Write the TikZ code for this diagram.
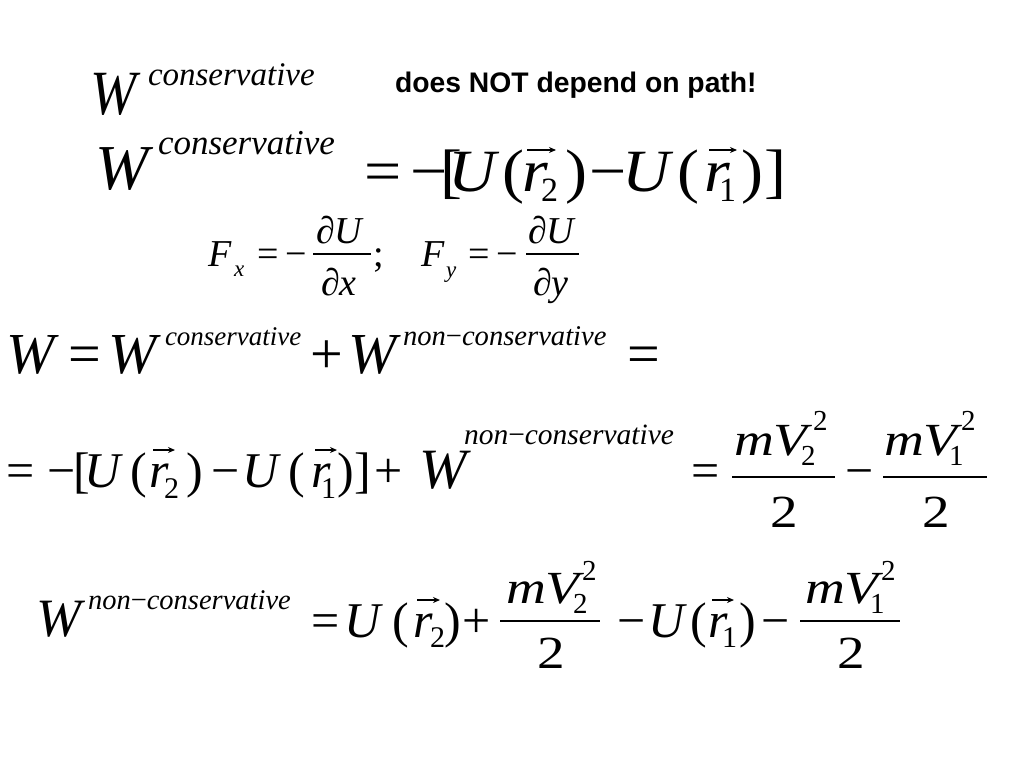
\documentclass[tikz,border=0pt]{standalone}
\usepackage{fontspec}
\usepackage{graphicx}
\setmainfont{Liberation Serif}
\newfontfamily\arialf{Liberation Sans}
\usetikzlibrary{arrows.meta}
\newcommand\fs[1]{\fontsize{#1}{#1}\selectfont}
\newcounter{tn}
\newcommand\tx[4]{\stepcounter{tn}\node[txt] (t\thetn) at (#1,#2) {\fs{#3}#4};}
\newcommand\txs[5]{\stepcounter{tn}\node[txt] (t\thetn) at (#1,#2) {\fs{#3}\scalebox{#4}[1]{#5}};}
\newcommand\myit[1]{{\itshape #1}}
\newcommand\vecar[3]{\draw[vec] (#1,#3) -- (#2,#3);}
\newcommand\fbar[3]{\draw[fbarline] (#1,#3) -- (#2,#3);}
\begin{document}
\begin{tikzpicture}[x=1pt,y=-1pt,
  txt/.style={anchor=base west,inner sep=0pt,outer sep=0pt},
  vec/.style={line width=1.4pt,-{Stealth[length=7pt,width=6pt]}},
  fbarline/.style={line width=1.5pt}]
\fill[white] (0,0) rectangle (1024,768);
\useasboundingbox (0,0) rectangle (1024,768);
% line 1
\txs{90}{114}{63}{0.88}{\itshape W}
\tx{148}{85}{33}{\itshape conservative}
\tx{395}{92}{28.3}{\arialf\bfseries does NOT depend on path!}
% line 2
\tx{95}{189}{64}{\itshape W}
\tx{158}{154}{35}{\itshape conservative}
\txs{364}{191}{60}{1.1}{=}
\txs{410}{191}{60}{1.1}{−}
\txs{440}{191}{60}{1.1}{[}
\txs{448}{191}{60}{1.1}{\itshape U}
\txs{502}{191}{60}{1.1}{(}
\txs{522}{191}{60}{1.1}{\itshape r}
\tx{541}{201}{34}{2}
\txs{565}{191}{60}{1.1}{)}
\txs{589}{191}{60}{1.1}{−}
\txs{622}{191}{60}{1.1}{\itshape U}
\txs{677}{191}{60}{1.1}{(}
\txs{704}{191}{60}{1.1}{\itshape r}
\tx{719}{201}{34}{1}
\txs{741}{191}{60}{1.1}{)}
\txs{764}{191}{60}{1.1}{]}
\vecar{527}{556}{150}
\vecar{709}{737}{150}
% line 3
\tx{208}{266}{38}{\itshape F}
\tx{234}{276}{23}{\itshape x}
\tx{257}{266}{38}{=}
\tx{285}{266}{38}{−}
\fbar{313}{371}{254}
\tx{316}{243}{38}{∂\myit{U}}
\tx{321}{295}{38}{∂\myit{x}}
\tx{373}{266}{38}{;}
\tx{421}{266}{38}{\itshape F}
\tx{446}{277}{23}{\itshape y}
\tx{468}{266}{38}{=}
\tx{496}{266}{38}{−}
\fbar{526}{579}{254}
\tx{528}{243}{38}{∂\myit{U}}
\tx{533}{295}{38}{∂\myit{y}}
% line 4
\tx{6}{373}{58}{\itshape W}
\tx{68}{373}{58}{=}
\tx{108}{373}{58}{\itshape W}
\tx{165}{345}{27}{\itshape conservative}
\tx{310}{373}{58}{+}
\tx{348}{373}{58}{\itshape W}
\tx{403}{345}{28.6}{\itshape non\upshape−\itshape conservative}
\tx{627}{373}{58}{=}
% line 5
\tx{6}{487}{50}{=}
\tx{47}{487}{50}{−}
\tx{73}{487}{50}{[}
\tx{84}{487}{50}{\itshape U}
\tx{130}{487}{50}{(}
\tx{149}{487}{50}{\itshape r}
\tx{164}{498}{30}{2}
\tx{186}{487}{50}{)}
\tx{211}{487}{50}{−}
\tx{242}{487}{50}{\itshape U}
\tx{288}{487}{50}{(}
\tx{311}{487}{50}{\itshape r}
\tx{321}{498}{30}{1}
\tx{337}{487}{50}{)}
\tx{354}{487}{50}{]}
\tx{374}{487}{50}{+}
\tx{419}{488}{57}{\itshape W}
\tx{464}{444}{29.5}{\itshape non\upshape−\itshape conservative}
\tx{691}{487}{50}{=}
\vecar{153}{175}{450}
\vecar{315}{337}{450}
\txs{734}{455}{46}{1.2}{\itshape mV}
\tx{813}{430}{29}{2}
\tx{801}{465}{29}{2}
\fbar{732}{835}{477}
\txs{770}{527}{46}{1.2}{2}
\tx{845}{487}{50}{−}
\txs{884}{455}{46}{1.2}{\itshape mV}
\tx{961}{430}{29}{2}
\tx{949}{465}{29}{1}
\fbar{883}{987}{477}
\txs{922}{527}{46}{1.2}{2}
% line 6
\tx{36}{636}{54}{\itshape W}
\tx{88}{609}{28.5}{\itshape non\upshape−\itshape conservative}
\tx{311}{637}{50}{=}
\tx{344}{637}{50}{\itshape U}
\tx{392}{637}{50}{(}
\tx{413}{637}{50}{\itshape r}
\tx{430}{647}{30}{2}
\tx{444}{637}{50}{)}
\tx{462}{637}{50}{+}
\vecar{417}{440}{600}
\fbar{500}{600}{621}
\txs{506}{603}{46}{1.2}{\itshape mV}
\tx{582}{580}{29}{2}
\tx{573}{613}{29}{2}
\txs{537}{668}{46}{1.2}{2}
\tx{617}{637}{50}{−}
\tx{648}{637}{50}{\itshape U}
\tx{690}{637}{50}{(}
\tx{708}{637}{50}{\itshape r}
\tx{722}{647}{30}{1}
\tx{739}{637}{50}{)}
\vecar{712}{734}{600}
\tx{761}{637}{50}{−}
\fbar{800}{900}{621}
\txs{805}{603}{46}{1.2}{\itshape mV}
\tx{881}{580}{29}{2}
\tx{870}{613}{29}{1}
\txs{837}{668}{46}{1.2}{2}
\end{tikzpicture}
\end{document}
